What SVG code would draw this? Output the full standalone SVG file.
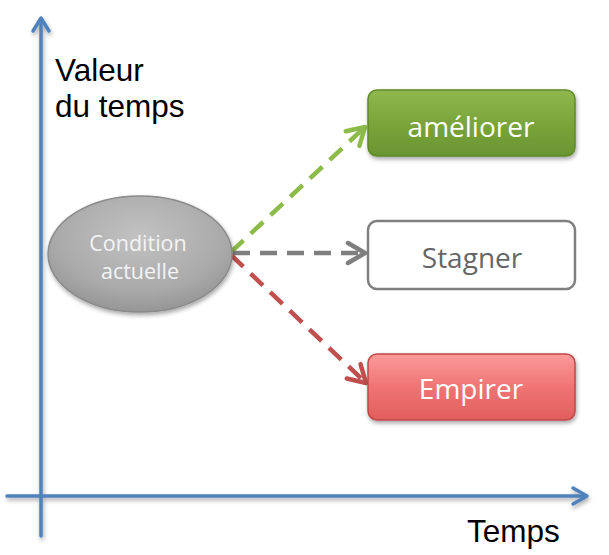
<svg xmlns="http://www.w3.org/2000/svg" width="609" height="555" viewBox="0 0 609 555">
  <defs>
    <style>
      .axis { stroke: #4f81bd; stroke-width: 3.5; fill: none; stroke-linecap: round; }
      .axishead { stroke: #4f81bd; stroke-width: 3.5; fill: none; stroke-linecap: round; stroke-linejoin: round; }
      .lbl { font-family: "Liberation Sans", Arial, sans-serif; font-size: 31.5px; fill: #000000; }
      .box { font-family: "Open Sans", "Noto Sans", sans-serif; font-size: 28px; text-anchor: middle; }
      .ell { font-family: "Open Sans", "Noto Sans", sans-serif; font-size: 21.5px; text-anchor: middle; fill: #f4f4f4; }
      .conn { fill: none; stroke-width: 4.5; stroke-dasharray: 17 10; }
    </style>
    <linearGradient id="gGreen" x1="0" y1="0" x2="0" y2="1">
      <stop offset="0" stop-color="#8fb94f"/>
      <stop offset="0.5" stop-color="#7aa53b"/>
      <stop offset="1" stop-color="#6a9530"/>
    </linearGradient>
    <linearGradient id="gRed" x1="0" y1="0" x2="0" y2="1">
      <stop offset="0" stop-color="#fb9a9a"/>
      <stop offset="0.5" stop-color="#f07474"/>
      <stop offset="1" stop-color="#e25e5e"/>
    </linearGradient>
    <radialGradient id="gGray" cx="0.5" cy="0.35" r="0.65">
      <stop offset="0" stop-color="#c2c2c2"/>
      <stop offset="0.7" stop-color="#aaaaaa"/>
      <stop offset="1" stop-color="#969696"/>
    </radialGradient>
    <filter id="shadow" x="-20%" y="-20%" width="140%" height="150%">
      <feDropShadow dx="1" dy="2.5" stdDeviation="2" flood-color="#000" flood-opacity="0.35"/>
    </filter>
    <marker id="mGreen" markerUnits="userSpaceOnUse" viewBox="-22 -14 26 28" markerWidth="26" markerHeight="28" refX="0" refY="0" orient="auto">
      <path d="M-17,-10 L0,0 L-17,10" fill="none" stroke="#8dbb4a" stroke-width="4.5" stroke-linecap="round" stroke-linejoin="round"/>
    </marker>
    <marker id="mGray" markerUnits="userSpaceOnUse" viewBox="-22 -14 26 28" markerWidth="26" markerHeight="28" refX="0" refY="0" orient="auto">
      <path d="M-17,-10 L0,0 L-17,10" fill="none" stroke="#7f7f7f" stroke-width="4.5" stroke-linecap="round" stroke-linejoin="round"/>
    </marker>
    <marker id="mRed" markerUnits="userSpaceOnUse" viewBox="-22 -14 26 28" markerWidth="26" markerHeight="28" refX="0" refY="0" orient="auto">
      <path d="M-17,-10 L0,0 L-17,10" fill="none" stroke="#c0504d" stroke-width="4.5" stroke-linecap="round" stroke-linejoin="round"/>
    </marker>
  </defs>

  <rect width="609" height="555" fill="#ffffff"/>

  <g id="axes" filter="url(#shadow)">
    <line class="axis" x1="41" y1="536" x2="41" y2="19"/>
    <path class="axishead" d="M33,31 L41,18 L49,31"/>
    <line class="axis" x1="7" y1="496" x2="586" y2="496"/>
    <path class="axishead" d="M573,488 L587,496 L573,504"/>
  </g>

  <g id="labels">
    <text class="lbl" x="55" y="81">Valeur</text>
    <text class="lbl" x="55" y="117">du temps</text>
    <text class="lbl" x="467" y="542">Temps</text>
  </g>

  <g id="connectors">
    <path class="conn" stroke="#8dbb4a" d="M231,252 L365,127" marker-end="url(#mGreen)"/>
    <path class="conn" stroke="#7f7f7f" d="M233,253 L365,253" marker-end="url(#mGray)"/>
    <path class="conn" stroke="#c0504d" d="M231,255 L366,383" marker-end="url(#mRed)"/>
  </g>

  <g id="node-condition">
    <ellipse cx="140" cy="254" rx="92" ry="58" fill="url(#gGray)" stroke="#8a8a8a" stroke-width="1.5" filter="url(#shadow)"/>
    <text class="ell" x="138" y="251">Condition</text>
    <text class="ell" x="140" y="279">actuelle</text>
  </g>

  <g id="node-ameliorer">
    <rect x="368" y="90" width="207" height="66" rx="9" fill="url(#gGreen)" stroke="#5e8a28" stroke-width="1.5" filter="url(#shadow)"/>
    <text class="box" x="471" y="137" fill="#ffffff">améliorer</text>
  </g>

  <g id="node-stagner">
    <rect x="368" y="221" width="207" height="68" rx="9" fill="#ffffff" stroke="#7f7f7f" stroke-width="2.5"/>
    <text class="box" x="472" y="268" fill="#666666">Stagner</text>
  </g>

  <g id="node-empirer">
    <rect x="368" y="354" width="207" height="66" rx="9" fill="url(#gRed)" stroke="#c04848" stroke-width="1.5" filter="url(#shadow)"/>
    <text class="box" x="471" y="399" fill="#ffffff">Empirer</text>
  </g>
</svg>
